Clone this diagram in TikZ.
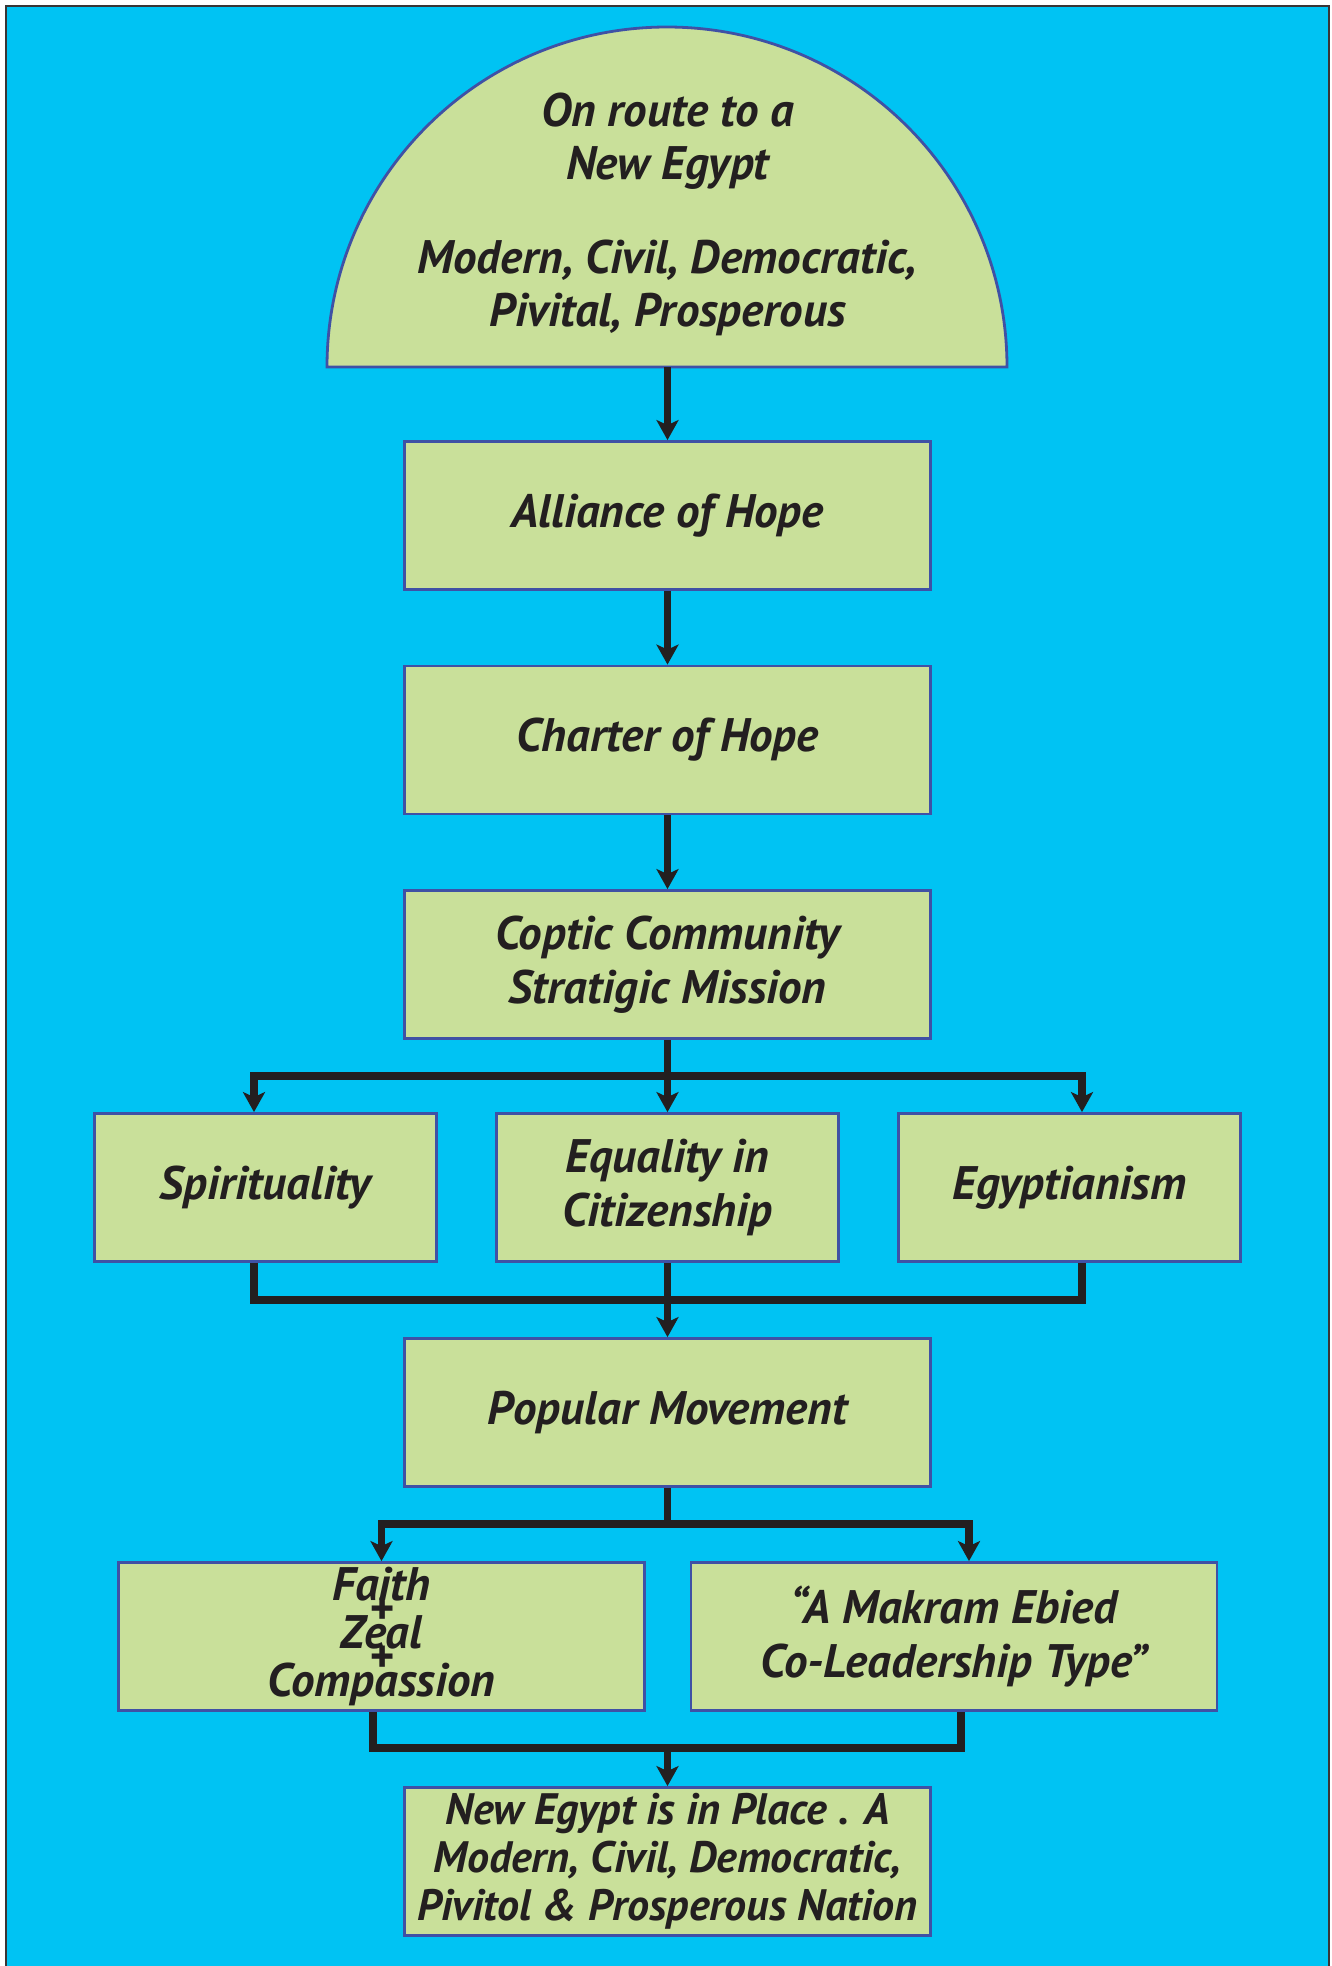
\documentclass[tikz,border=0pt]{standalone}
\usepackage{fontspec}
\setmainfont{PT Sans}
\usetikzlibrary{arrows.meta}

\definecolor{sky}{HTML}{00C3F3}
\definecolor{leaf}{HTML}{C9E09A}
\definecolor{edge}{HTML}{3F51A5}
\definecolor{ink}{HTML}{231F20}

\begin{document}
\begin{tikzpicture}[x=1pt,y=-1pt,
  lbl/.style={text=ink, align=center, font=\fontsize{47}{54}\selectfont\bfseries\itshape},
  box/.style={lbl, draw=edge, line width=2.8pt, fill=leaf, minimum width=526pt, minimum height=148pt, inner sep=0pt},
  narrow/.style={box, minimum width=342pt},
  bar/.style={draw=ink, line width=7.5pt},
  flow/.style={bar, -{Stealth[length=20pt,width=22pt,inset=5pt]}}]

  % page and frame
  \useasboundingbox (0,0) rectangle (1332,1966);
  \fill[white] (0,0) rectangle (1332,1966);
  \fill[sky] (6,6) rectangle (1329,1966);
  \draw[ink!90, line width=2.5pt] (6,1966) -- (6,6) -- (1329,6) -- (1329,1966);

  % dome on top
  \draw[edge, line width=2.8pt, fill=leaf] (327,367) arc[start angle=180, end angle=0, radius=340pt] -- cycle;
  \coordinate (dome) at (667.5,367);
  \node[lbl, font=\fontsize{47}{53}\selectfont\bfseries\itshape] (goal) at (667.5,214) {On route to a\\New Egypt\\[41pt]Modern, Civil, Democratic,\\Pivital, Prosperous};

  % main chain
  \node[box] (alliance) at (667.5,515.5) {Alliance of Hope};
  \node[box] (charter) at (667.5,740) {Charter of Hope};
  \node[box] (coptic) at (667.5,964.5) {Coptic Community\\Stratigic Mission};

  \node[narrow] (spirit) at (265.5,1187.5) {Spirituality};
  \node[narrow] (equal) at (667.5,1187.5) {Equality in\\Citizenship};
  \node[narrow] (egypt) at (1069.5,1187.5) {Egyptianism};

  \node[box] (popular) at (667.5,1412.5) {Popular Movement};

  \node[box, font=\fontsize{47}{47}\selectfont\bfseries\itshape] (faith) at (381.5,1636.5) {Faith\\[-23pt]+\\[-23pt]Zeal\\[-23pt]+\\[-23pt]Compassion};
  \node[box] (makram) at (954,1636.5) {“A Makram Ebied\\Co-Leadership Type”};

  \node[box, font=\fontsize{44}{48}\selectfont\bfseries\itshape] (nation) at (667.5,1861.5) {New Egypt is in Place . A\\Modern, Civil, Democratic,\\Pivitol \& Prosperous Nation};

  % connectors
  \draw[flow] (dome) -- (alliance);
  \draw[flow] (alliance) -- (charter);
  \draw[flow] (charter) -- (coptic);

  \coordinate (split) at (667.5,1076);
  \draw[flow] (coptic) -- (equal);
  \draw[flow] (split) -| ([xshift=-11.5pt]spirit.north);
  \draw[flow] (split) -| ([xshift=12.5pt]egypt.north);

  \coordinate (merge) at (667.5,1300);
  \draw[bar] ([xshift=-11.5pt]spirit.south) |- (merge) -| ([xshift=12.5pt]egypt.south);
  \draw[bar] (equal) -- (merge);
  \draw[flow] (merge) -- (popular);

  \coordinate (fork) at (667.5,1524);
  \draw[bar] (popular) -- (fork);
  \draw[flow] (fork) -| (faith.north);
  \draw[flow] (fork) -| ([xshift=15pt]makram.north);

  \coordinate (join) at (667.5,1748);
  \draw[bar] ([xshift=-8.5pt]faith.south) |- (join) -| ([xshift=7pt]makram.south);
  \draw[flow] (join) -- (nation);
\end{tikzpicture}
\end{document}
